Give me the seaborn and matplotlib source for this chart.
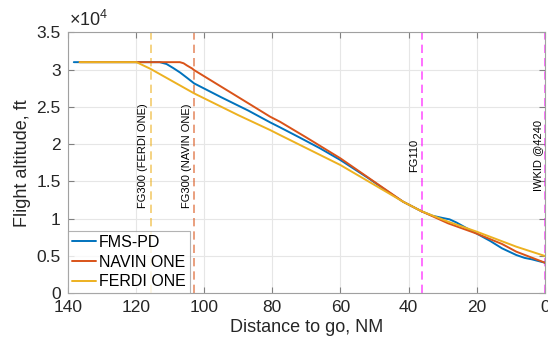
import matplotlib
matplotlib.use("Agg")
import matplotlib.pyplot as plt
import seaborn as sns
import pandas as pd
from matplotlib.ticker import FuncFormatter

# ---- data (distance to go in NM, altitude in ft) ----
fms_x = [138.2, 120, 113, 111, 109, 107, 105, 102.9, 95, 87, 80.6, 77.7, 72, 66, 60, 52, 45,
         41.6, 36.2, 33, 30, 28, 26, 23.4, 20, 16, 12.6, 8.4, 6, 3.9, 0]
fms_y = [31000, 31000, 31000, 30750, 30200, 29600, 28900, 28150, 26300, 24500, 22920, 22250,
         20900, 19450, 17870, 15500, 13300, 12280, 11000, 10400, 10100, 9920, 9500, 8840, 8000,
         7000, 6030, 5130, 4750, 4560, 4100]

navin_x = [136.5, 107.1, 106, 105, 103.5, 102.9, 95, 87, 80.6, 77.7, 70, 60, 52, 45, 41.6,
           36.2, 28.4, 20, 12.6, 8.4, 0]
navin_y = [31000, 31000, 30850, 30550, 30150, 29930, 27720, 25480, 23680, 23000, 20900, 18100,
           15570, 13360, 12280, 11000, 9380, 8000, 6610, 5580, 4100]

ferdi_x = [136.5, 119.8, 118, 115.7, 102.9, 90, 80.6, 77.7, 60, 50, 41.6, 36.2, 28.4, 20, 8.4, 0]
ferdi_y = [31000, 31000, 30600, 30100, 26810, 23900, 21890, 21220, 17200, 14530, 12280, 11000,
           9600, 8260, 6250, 5000]

series_names = ["FMS-PD", "NAVIN ONE", "FERDI ONE"]
series_colors = ["#0072BD", "#D95319", "#EDB120"]

vline_x = [115.7, 102.9, 36.2, 0]
vline_labels = ["FG300 (FERDI ONE)", "FG300 (NAVIN ONE)", "FG110", "IWKID @4240"]
vline_colors = ["#EDB120", "#D95319", "#FF00FF", "#FF00FF"]

x_ticks = [140, 120, 100, 80, 60, 40, 20, 0]
y_ticks = [0, 5000, 10000, 15000, 20000, 25000, 30000, 35000]

# ---- build table ----
rows = []
for name, xs, ys in zip(series_names, [fms_x, navin_x, ferdi_x], [fms_y, navin_y, ferdi_y]):
    for xv, yv in zip(xs, ys):
        rows.append({"dist": xv, "alt": yv, "series": name})
df = pd.DataFrame(rows)

sns.set_theme(style="whitegrid")
plt.rcParams["font.family"] = ["Liberation Sans", "DejaVu Sans"]
plt.rcParams["mathtext.fontset"] = "custom"
plt.rcParams["mathtext.rm"] = "Liberation Sans"
plt.rcParams["mathtext.it"] = "Liberation Sans:italic"

fig = plt.figure(figsize=(5.48, 3.44), dpi=100)
ax = fig.add_axes([0.1235, 0.1474, 0.871, 0.7586])

sns.lineplot(data=df, x="dist", y="alt", hue="series", hue_order=series_names,
             palette=series_colors, sort=False, estimator=None, lw=1.4, ax=ax)

for xv, lab, col in zip(vline_x, vline_labels, vline_colors):
    ax.axvline(xv, color=col, ls=(0, (5, 3)), lw=1.2, alpha=0.65, zorder=1)
    ax.annotate(lab, xy=(xv, 18500), xytext=(-1.5, 0), textcoords="offset points",
                rotation=90, ha="right", va="center", fontsize=8, color="black")

ax.set_xlim(140, 0)
ax.set_ylim(0, 35000)
ax.set_xticks(x_ticks)
ax.set_yticks(y_ticks)
ax.yaxis.set_major_formatter(FuncFormatter(lambda v, p: f"{v/1e4:g}"))
ax.xaxis.set_major_formatter(FuncFormatter(lambda v, p: f"{v:g}"))

ax.grid(True, color="#e6e6e6", lw=0.8)
for s in ax.spines.values():
    s.set_visible(True)
    s.set_color("#a0a0a0")
    s.set_linewidth(0.8)
ax.tick_params(axis="both", which="both", direction="in", length=4, width=0.8,
               color="#808080", labelsize=12.5, labelcolor="#262626",
               top=True, right=True, bottom=True, left=True, pad=5)

ax.set_xlabel("Distance to go, NM", fontsize=13, color="#262626", labelpad=3)
ax.set_ylabel("Flight altitude, ft", fontsize=13, color="#262626", labelpad=4)

ax.text(0.003, 1.01, r"$\times10^{4}$", transform=ax.transAxes, ha="left", va="bottom",
        fontsize=13, color="#262626")

leg = ax.legend(loc="lower left", borderaxespad=0, fontsize=11.5, frameon=True,
                fancybox=False, handlelength=1.5, handletextpad=0.2, labelspacing=0.3,
                borderpad=0.25)
leg.get_frame().set_edgecolor("#a0a0a0")
leg.get_frame().set_linewidth(0.8)
for t in leg.get_texts():
    t.set_color("black")
leg.set_title(None)

fig.savefig("out.png", dpi=100)
